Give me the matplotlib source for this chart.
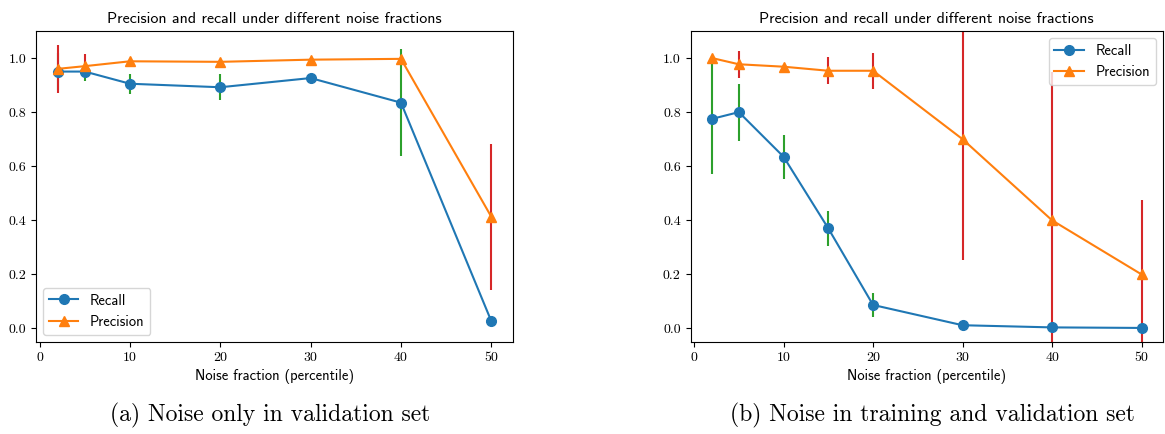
import matplotlib
matplotlib.use('Agg')
import matplotlib.pyplot as plt
import numpy as np

# (a) noise only in validation set
x_a = [2, 5, 10, 20, 30, 40, 50]
recall_a = [0.95, 0.95, 0.905, 0.892, 0.926, 0.835, 0.027]
recall_err_a = [0.07, 0.035, 0.037, 0.048, 0.008, 0.198, 0.01]
prec_a = [0.96, 0.97, 0.988, 0.986, 0.994, 0.997, 0.413]
prec_err_a = [0.09, 0.045, 0.008, 0.008, 0.005, 0.004, 0.27]

# (b) noise in training and validation set
x_b = [2, 5, 10, 15, 20, 30, 40, 50]
recall_b = [0.775, 0.80, 0.635, 0.37, 0.087, 0.012, 0.004, 0.002]
recall_err_b = [0.205, 0.105, 0.082, 0.065, 0.045, 0.004, 0.003, 0.002]
prec_b = [1.0, 0.977, 0.968, 0.953, 0.953, 0.70, 0.40, 0.20]
prec_err_b = [0.0, 0.05, 0.01, 0.05, 0.067, 0.445, 0.548, 0.275]

title = 'Precision and recall under different noise fractions'
xlabel = 'Noise fraction (percentile)'
captions = ['(a) Noise only in validation set', '(b) Noise in training and validation set']

sans = 'cmss10'
serif = 'cmr10'
plt.rcParams['axes.formatter.use_mathtext'] = True

fig = plt.figure(figsize=(11.65, 4.34), dpi=100)
ax_a = fig.add_axes([36/1165, 92/434, 477/1165, 311/434])
ax_b = fig.add_axes([690.5/1165, 92/434, 472.5/1165, 311/434])

panels = [
    (ax_a, x_a, recall_a, recall_err_a, prec_a, prec_err_a, 'lower left'),
    (ax_b, x_b, recall_b, recall_err_b, prec_b, prec_err_b, 'upper right'),
]

for ax, x, rec, rec_err, prec, prec_err, loc in panels:
    ax.errorbar(x, rec, yerr=rec_err, fmt='none', ecolor='tab:green', elinewidth=1.5, zorder=1)
    ax.errorbar(x, prec, yerr=prec_err, fmt='none', ecolor='tab:red', elinewidth=1.5, zorder=1)
    ax.plot(x, rec, marker='o', color='C0', markersize=7, label='Recall', zorder=3)
    ax.plot(x, prec, marker='^', color='C1', markersize=7, label='Precision', zorder=3)
    ax.set_ylim(-0.05, 1.1)
    ax.set_xlim(-0.4, 52.4)
    ax.set_yticks([0.0, 0.2, 0.4, 0.6, 0.8, 1.0])
    ax.set_xticks([0, 10, 20, 30, 40, 50])
    ax.set_yticklabels(['%.1f' % v for v in ax.get_yticks()], fontfamily=serif, fontsize=10)
    ax.set_xticklabels(['%d' % v for v in ax.get_xticks()], fontfamily=serif, fontsize=10)
    ax.set_title(title, fontfamily=sans, fontsize=11.5, pad=6)
    ax.set_xlabel(xlabel, fontfamily=sans, fontsize=10.5)
    ax.legend(loc=loc, prop={'family': sans, 'size': 10.5})

fig.text(270/1165, 1 - 415/434, captions[0], ha='center', va='center', fontfamily=serif, fontsize=17)
fig.text(932/1165, 1 - 415/434, captions[1], ha='center', va='center', fontfamily=serif, fontsize=17)

fig.savefig('out.png', dpi=100)
